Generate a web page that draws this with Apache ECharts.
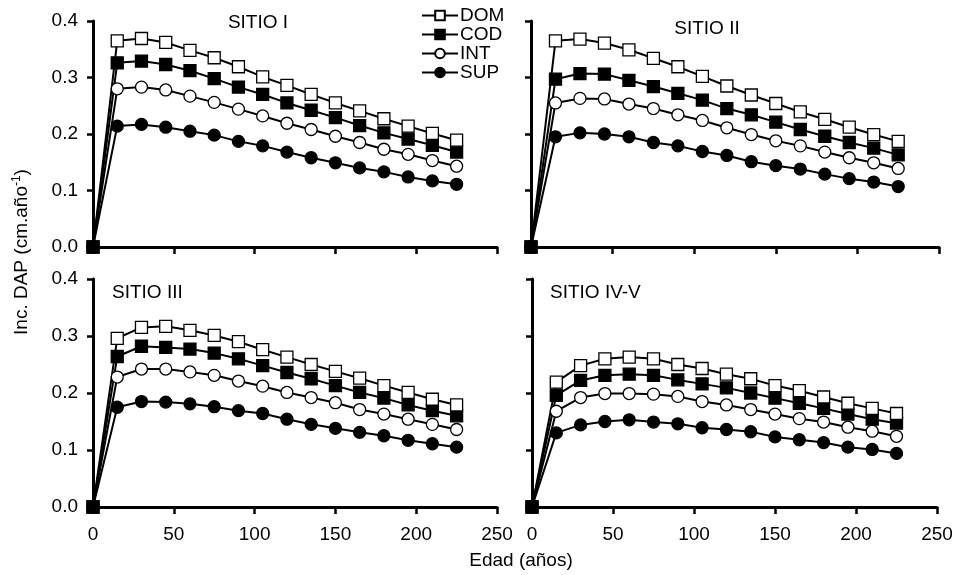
<!DOCTYPE html>
<html><head><meta charset="utf-8">
<script src="https://cdn.jsdelivr.net/npm/echarts@6/dist/echarts.min.js"></script>
<style>html,body{margin:0;padding:0;background:#fff}#c{width:958px;height:575px}</style>
</head><body><div id="c"></div>
<script>
const ages = [0,15,30,45,60,75,90,105,120,135,150,165,180,195,210,225];
const xTicks = [0,50,100,150,200,250];
const yTicks = [0.0,0.1,0.2,0.3,0.4];
const seriesNames = ['DOM','COD','INT','SUP'];
const siteTitles = ['SITIO I','SITIO II','SITIO III','SITIO IV-V'];

const dom1 = [0,0.365,0.369,0.362,0.348,0.335,0.319,0.301,0.286,0.270,0.255,0.241,0.227,0.214,0.201,0.189];
const cod1 = [0,0.326,0.329,0.323,0.312,0.298,0.283,0.270,0.255,0.242,0.229,0.215,0.202,0.191,0.180,0.168];
const int1 = [0,0.280,0.283,0.278,0.267,0.256,0.244,0.232,0.219,0.208,0.196,0.185,0.173,0.164,0.153,0.143];
const sup1 = [0,0.214,0.217,0.212,0.205,0.198,0.187,0.179,0.168,0.158,0.149,0.140,0.133,0.124,0.117,0.111];

const dom2 = [0,0.365,0.368,0.361,0.349,0.334,0.319,0.302,0.285,0.269,0.254,0.239,0.226,0.212,0.199,0.187];
const cod2 = [0,0.297,0.307,0.306,0.295,0.284,0.272,0.260,0.245,0.234,0.221,0.208,0.196,0.185,0.175,0.163];
const int2 = [0,0.255,0.263,0.262,0.253,0.245,0.234,0.224,0.211,0.199,0.188,0.179,0.168,0.158,0.149,0.139];
const sup2 = [0,0.195,0.202,0.200,0.195,0.185,0.179,0.169,0.162,0.151,0.144,0.138,0.129,0.121,0.115,0.107];

const dom3 = [0,0.296,0.315,0.317,0.310,0.301,0.290,0.276,0.263,0.250,0.238,0.226,0.213,0.201,0.189,0.179];
const cod3 = [0,0.264,0.282,0.280,0.277,0.270,0.260,0.248,0.236,0.225,0.213,0.201,0.191,0.179,0.169,0.160];
const int3 = [0,0.228,0.242,0.242,0.237,0.231,0.221,0.212,0.201,0.192,0.183,0.171,0.163,0.154,0.145,0.136];
const sup3 = [0,0.175,0.185,0.184,0.181,0.176,0.169,0.164,0.154,0.145,0.138,0.131,0.125,0.117,0.111,0.105];

const dom4 = [0,0.219,0.248,0.260,0.263,0.260,0.250,0.243,0.233,0.225,0.213,0.204,0.193,0.182,0.173,0.164];
const cod4 = [0,0.196,0.222,0.231,0.233,0.231,0.223,0.216,0.209,0.200,0.191,0.182,0.173,0.163,0.154,0.147];
const int4 = [0,0.168,0.192,0.199,0.199,0.198,0.194,0.185,0.179,0.171,0.163,0.155,0.149,0.140,0.133,0.124];
const sup4 = [0,0.130,0.144,0.150,0.153,0.149,0.146,0.139,0.136,0.132,0.123,0.118,0.113,0.105,0.101,0.094];

const sites = [
  {DOM:dom1, COD:cod1, INT:int1, SUP:sup1},
  {DOM:dom2, COD:cod2, INT:int2, SUP:sup2},
  {DOM:dom3, COD:cod3, INT:int3, SUP:sup3},
  {DOM:dom4, COD:cod4, INT:int4, SUP:sup4}
];

const FONT = 'Liberation Sans, Arial, sans-serif';
const grids = [
  {left:93, top:21, width:404, height:226},
  {left:531, top:21, width:408, height:226},
  {left:93, top:279, width:404, height:228},
  {left:532, top:279, width:405, height:228}
];
const markerStyle = {
  DOM:{symbol:'rect', fill:'#fff'},
  COD:{symbol:'rect', fill:'#000'},
  INT:{symbol:'circle', fill:'#fff'},
  SUP:{symbol:'circle', fill:'#000'}
};

const xAxes = grids.map((g,i)=>({
  type:'value', gridIndex:i, min:xTicks[0], max:xTicks[xTicks.length-1], interval:50,
  axisLine:{show:true, onZero:false, lineStyle:{color:'#000', width:3}},
  axisTick:{show:true, length:7, lineStyle:{color:'#000', width:2.5}},
  axisLabel:{show:i>=2, margin:18, color:'#000', fontSize:19, fontFamily:FONT},
  splitLine:{show:false}
}));
const yAxes = grids.map((g,i)=>({
  type:'value', gridIndex:i, min:yTicks[0], max:yTicks[yTicks.length-1], interval:0.1,
  axisLine:{show:true, onZero:false, lineStyle:{color:'#000', width:3}},
  axisTick:{show:true, length:6, lineStyle:{color:'#000', width:2.5}},
  axisLabel:{show:i%2===0, margin:15, color:'#000', fontSize:19, fontFamily:FONT, formatter:v=>v.toFixed(1)},
  splitLine:{show:false}
}));

const series = [];
sites.forEach((s,i)=>{
  ['SUP','INT','COD','DOM'].forEach(n=>{
    series.push({
      type:'line', name:n, xAxisIndex:i, yAxisIndex:i,
      data: ages.map((a,k)=> k===0 ? {value:[a, s[n][k]], itemStyle:{color:'#000'}} : [a, s[n][k]]),
      symbol: markerStyle[n].symbol, symbolSize:12, showAllSymbol:true,
      lineStyle:{color:'#000', width:2},
      itemStyle:{color:markerStyle[n].fill, borderColor:'#000', borderWidth:1.3},
      emphasis:{disabled:true}, animation:false
    });
  });
});

const titlePos = [
  {x:258, y:23, align:'center'},
  {x:707, y:29, align:'center'},
  {x:112, y:293, align:'left'},
  {x:550, y:293, align:'left'}
];

const graphics = siteTitles.map((t,i)=>({
  type:'text', x:titlePos[i].x, y:titlePos[i].y,
  style:{text:t, fill:'#000', font:'19px '+FONT, textAlign:titlePos[i].align, textVerticalAlign:'middle'}
}));
graphics.push({
  type:'text', x:521, y:561,
  style:{text:'Edad (años)', fill:'#000', font:'19px '+FONT, textAlign:'center', textVerticalAlign:'middle'}
});
graphics.push({
  type:'text', x:22, y:252, rotation:Math.PI/2,
  style:{
    text:'{a|Inc. DAP (cm.año}{s|-1}{a|)}',
    rich:{
      a:{fontSize:19, fontFamily:FONT, fill:'#000', lineHeight:22},
      s:{fontSize:12, fontFamily:FONT, fill:'#000', verticalAlign:'top', lineHeight:22, padding:[0,0,10,0]}
    },
    textAlign:'center', textVerticalAlign:'middle'
  }
});

const chart = echarts.init(document.getElementById('c'), null, {renderer:'canvas'});
chart.setOption({
  backgroundColor:'#fff',
  animation:false,
  grid: grids,
  xAxis: xAxes,
  yAxis: yAxes,
  legend:{
    data: seriesNames, orient:'vertical', left:416, top:1,
    itemWidth:36, itemHeight:12, itemGap:0,
    textStyle:{color:'#000', fontSize:19, fontFamily:FONT, lineHeight:19, padding:[0,0,0,-3]},
    selectedMode:false
  },
  graphic: graphics,
  series: series
});
</script>
</body></html>
